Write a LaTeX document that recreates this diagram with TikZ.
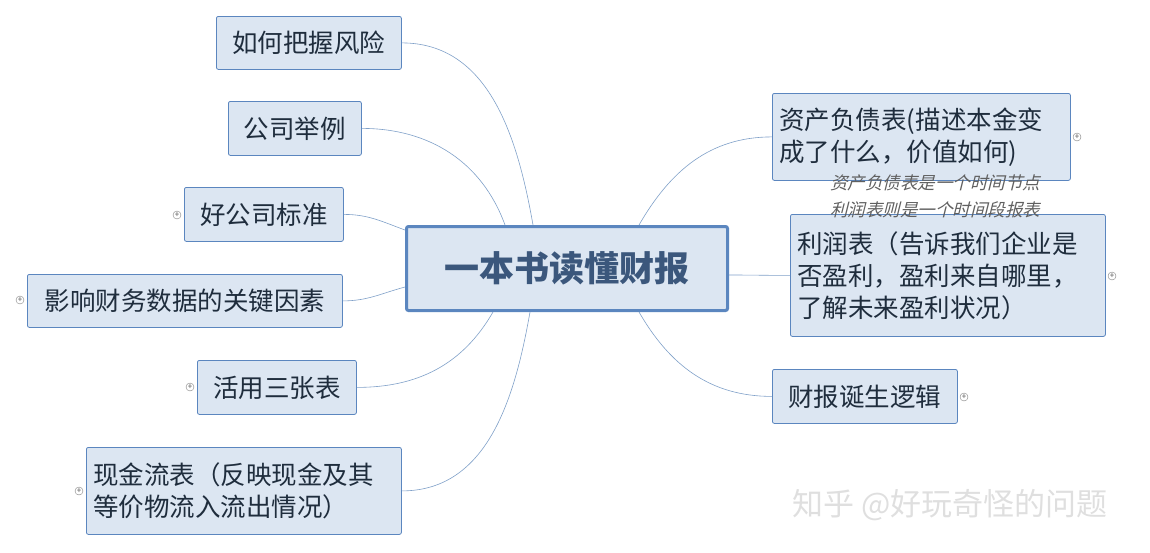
\documentclass[tikz,border=0pt]{standalone}
\usepackage{fontspec}
\setmainfont{Noto Sans CJK SC}
\newfontfamily\notefont[FakeSlant=0.25]{Noto Sans CJK SC}
\usetikzlibrary{positioning}
\definecolor{boxfill}{HTML}{DCE6F2}
\definecolor{boxline}{HTML}{5B86BF}
\definecolor{linkline}{HTML}{7FA0C8}
\definecolor{boxtext}{HTML}{1F2D3D}
\begin{document}
\begin{tikzpicture}[x=1pt,y=-1pt]
		\tikzstyle{topic}=[rectangle, rounded corners=2pt, draw=boxline, fill=boxfill, thick, text=boxtext, font=\fontsize{25.5}{32}\selectfont, inner sep=0pt, anchor=north west]
		\tikzstyle{root}=[topic, line width=3pt, font=\fontsize{35}{38}\selectfont\bfseries, text=boxline!65!black]
		\tikzstyle{link}=[linkline, line width=0.6pt]
		\tikzstyle{plus}=[circle, draw=gray, inner sep=0pt, minimum size=8pt, font=\fontsize{8}{8}\selectfont, text=gray!60!black]

		\useasboundingbox (0,0) rectangle (1150,552);

		\node [root, minimum width=321, minimum height=84] (c) at (405,225) {一本书读懂财报};

		\node [topic, minimum width=185, minimum height=53] (risk) at (216,16) {如何把握风险};
		\node [topic, minimum width=133, minimum height=54] (case) at (228,101) {公司举例};
		\node [topic, minimum width=159, minimum height=54] (good) at (184,187) {好公司标准};
		\node [topic, minimum width=315, minimum height=53] (key) at (27,274) {影响财务数据的关键因素};
		\node [topic, minimum width=159, minimum height=54] (use) at (197,360) {活用三张表};
		\node [topic, minimum width=315, minimum height=87, align=left, text width=301, inner xsep=7pt] (cash) at (86,447) {现金流表（反映现金及其\\等价物流入流出情况）};

		\node [topic, minimum width=298, minimum height=87, align=left, text width=284, inner xsep=7pt] (bal) at (772,93) {资产负债表(描述本金变\\成了什么，价值如何)};
		\node [topic, minimum width=315, minimum height=122, align=left, text width=301, inner xsep=7pt] (inc) at (790,214) {利润表（告诉我们企业是\\否盈利，盈利来自哪里，\\了解未来盈利状况）};
		\node [topic, minimum width=185, minimum height=54] (born) at (772,369) {财报诞生逻辑};

		% connectors
		\draw [link] (risk.east) to[out=0,in=100] ([xshift=128]c.north west);
		\draw [link] (case.east) to[out=0,in=110] ([xshift=100]c.north west);
		\draw [link] (good.east) to[out=0,in=160] ([yshift=-5]c.north west);
		\draw [link] (key.east) to[out=0,in=195] ([yshift=-62]c.north west);
		\draw [link] (use.east) to[out=0,in=240] ([xshift=88]c.south west);
		\draw [link] (cash.east) to[out=0,in=260] ([xshift=125]c.south west);
		\draw [link] (bal.west) to[out=180,in=60] ([xshift=-90]c.north east);
		\draw [link] (inc.west) to[out=180,in=0] ([yshift=-50]c.north east);
		\draw [link] (born.west) to[out=180,in=300] ([xshift=-90]c.south east);

		% collapse markers
		\node [plus] (pgood) at (177,215) {+};
		\node [plus] (pkey) at (20,300) {+};
		\node [plus] (puse) at (190,387) {+};
		\node [plus] (pcash) at (79,491) {+};
		\node [plus] (pbal) at (1077,137) {+};
		\node [plus] (pinc) at (1112,276) {+};
		\node [plus] (pborn) at (964,397) {+};

		% floating note
		\node [text=gray!75!black, font=\fontsize{17.5}{27}\notefont, align=center] (note) at (935,196) {资产负债表是一个时间节点\\利润表则是一个时间段报表};

		\node [text=gray!25, font=\fontsize{31}{34}\selectfont] (mark) at (950,505) {知乎 @好玩奇怪的问题};
	\end{tikzpicture}
\end{document}
